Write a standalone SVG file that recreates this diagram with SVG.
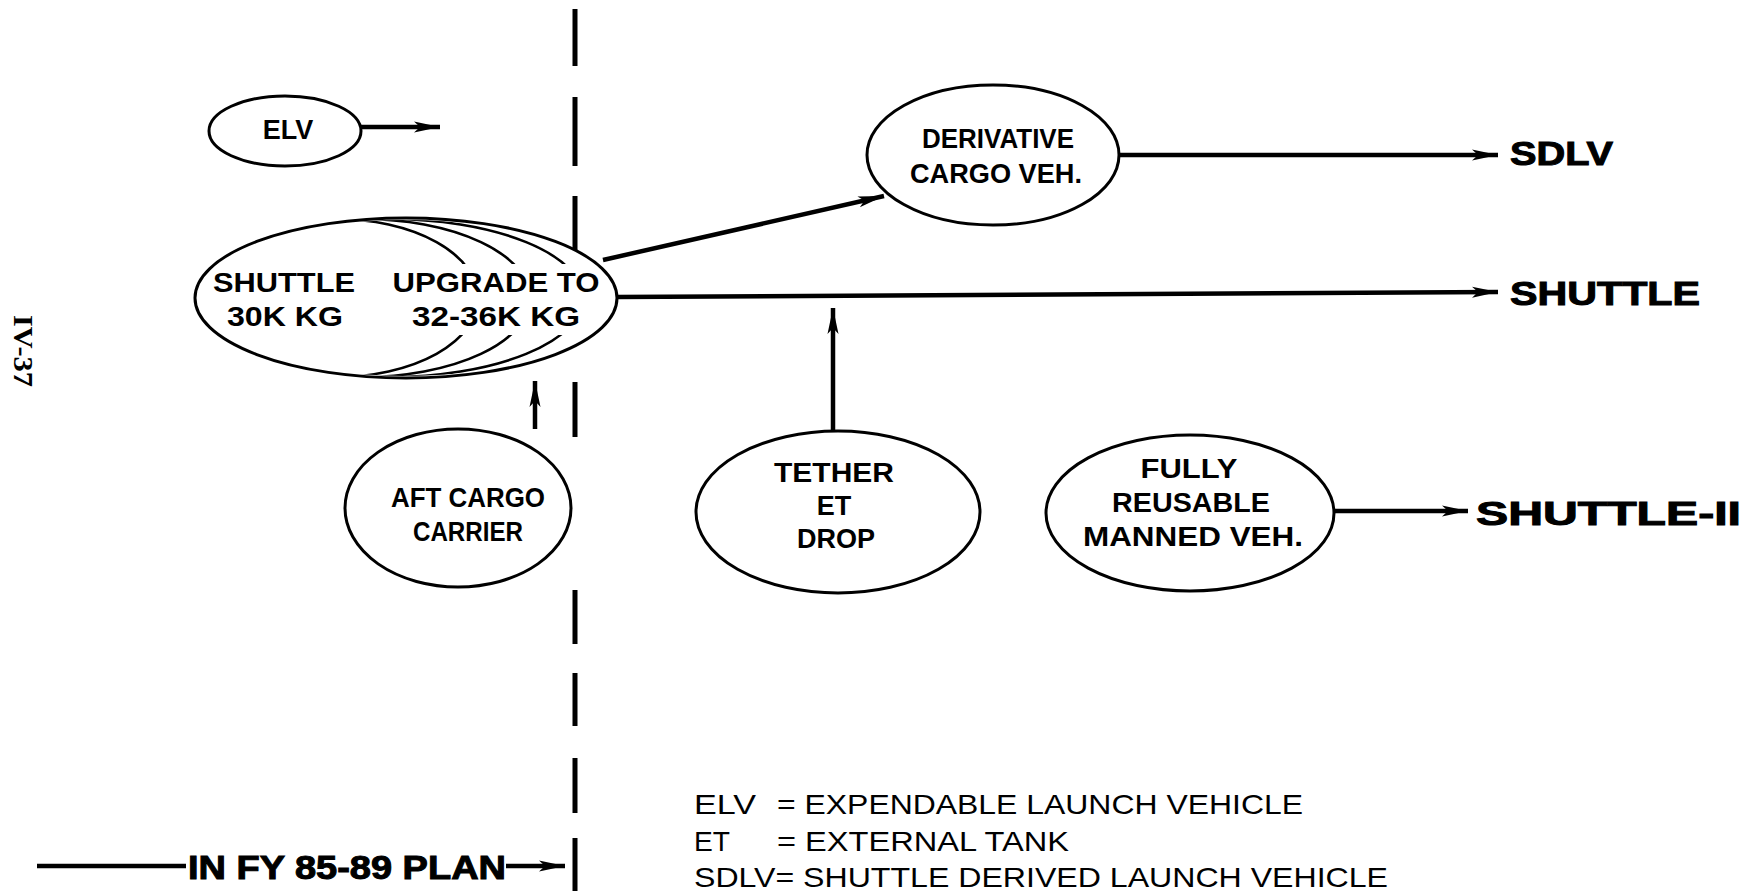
<svg xmlns="http://www.w3.org/2000/svg" width="1747" height="896" viewBox="0 0 1747 896">
<style>
.node{fill:#fff;stroke:#000;stroke-width:3}
.arc{fill:none;stroke:#000;stroke-width:2.6}
.t{font-family:"Liberation Sans",Arial,sans-serif;font-weight:bold;font-size:27px;fill:#000;text-anchor:middle}
.big{font-family:"Liberation Sans",Arial,sans-serif;font-weight:bold;font-size:33px;fill:#000;stroke:#000;stroke-width:1;text-anchor:start}
.leg{font-family:"Liberation Sans",Arial,sans-serif;font-size:28px;fill:#000}
.conn{fill:none;stroke:#000;stroke-width:4.5}
.dash{fill:none;stroke:#000;stroke-width:5}
</style>
<defs>
<marker id="ah" markerUnits="userSpaceOnUse" markerWidth="28" markerHeight="14" refX="26" refY="7" orient="auto">
<path d="M0,1.5 L26,7 L0,12.5 L6,7 Z" fill="#000"/>
</marker>
<clipPath id="clipOuter"><ellipse cx="406" cy="298" rx="209" ry="78"/></clipPath>
<clipPath id="clipBand"><rect x="150" y="180" width="500" height="84"/><rect x="150" y="335" width="500" height="60"/></clipPath>
</defs>
<rect width="1747" height="896" fill="#fff"/>

<g id="divider">
<path class="dash" d="M575,9 V66 M575,97 V166 M575,196 V256 M575,382 V437 M575,590 V644 M575,673 V726 M575,758 V813 M575,838 V891"/>
</g>

<g id="connectors">
<line class="conn" x1="361" y1="127" x2="440" y2="127" marker-end="url(#ah)"/>
<line class="conn" x1="603" y1="260" x2="884" y2="196" marker-end="url(#ah)"/>
<line class="conn" x1="616" y1="297" x2="1498" y2="292" marker-end="url(#ah)"/>
<line class="conn" x1="1119" y1="155" x2="1498" y2="155" marker-end="url(#ah)"/>
<line class="conn" x1="833" y1="431" x2="833" y2="308" marker-end="url(#ah)"/>
<line class="conn" x1="535" y1="429" x2="535" y2="381" marker-end="url(#ah)"/>
<line class="conn" x1="1334" y1="511" x2="1468" y2="511" marker-end="url(#ah)"/>
<line class="conn" x1="37" y1="866" x2="186" y2="866" stroke-width="3.5"/>
<line class="conn" x1="506" y1="866" x2="565" y2="866" marker-end="url(#ah)"/>
</g>

<g id="elv">
<ellipse class="node" cx="285" cy="131" rx="76" ry="35"/>
<text class="t" x="288" y="139" font-size="25">ELV</text>
</g>

<g id="shuttle-upgrade">
<ellipse class="node" cx="406" cy="298" rx="211" ry="80"/>
<g clip-path="url(#clipOuter)"><g clip-path="url(#clipBand)">
<ellipse class="arc" cx="336.5" cy="298" rx="141.5" ry="79"/>
<ellipse class="arc" cx="362.5" cy="298" rx="167.5" ry="79"/>
<ellipse class="arc" cx="389" cy="298" rx="194" ry="79"/>
</g></g>
<text class="t" x="284" y="292" font-size="30" textLength="142" lengthAdjust="spacingAndGlyphs">SHUTTLE</text>
<text class="t" x="285" y="326" font-size="30" textLength="116" lengthAdjust="spacingAndGlyphs">30K  KG</text>
<text class="t" x="496" y="292" font-size="30" textLength="207" lengthAdjust="spacingAndGlyphs">UPGRADE TO</text>
<text class="t" x="496" y="326" font-size="30" textLength="168" lengthAdjust="spacingAndGlyphs">32-36K  KG</text>
</g>

<g id="derivative">
<ellipse class="node" cx="993" cy="155" rx="126" ry="70" stroke-width="4"/>
<text class="t" x="998" y="148" textLength="152" lengthAdjust="spacingAndGlyphs">DERIVATIVE</text>
<text class="t" x="996" y="183" textLength="172" lengthAdjust="spacingAndGlyphs">CARGO VEH.</text>
</g>

<g id="aft-cargo">
<ellipse class="node" cx="458" cy="508" rx="113" ry="79"/>
<text class="t" x="468" y="507" textLength="154" lengthAdjust="spacingAndGlyphs">AFT CARGO</text>
<text class="t" x="468" y="541" textLength="110" lengthAdjust="spacingAndGlyphs">CARRIER</text>
</g>

<g id="tether">
<ellipse class="node" cx="838" cy="512" rx="142" ry="81"/>
<text class="t" x="834" y="482" textLength="120" lengthAdjust="spacingAndGlyphs">TETHER</text>
<text class="t" x="834" y="515" font-size="28">ET</text>
<text class="t" x="836" y="548" font-size="28">DROP</text>
</g>

<g id="fully-reusable">
<ellipse class="node" cx="1190" cy="513" rx="144" ry="78"/>
<text class="t" x="1189" y="478" textLength="97" lengthAdjust="spacingAndGlyphs">FULLY</text>
<text class="t" x="1191" y="512" textLength="158" lengthAdjust="spacingAndGlyphs">REUSABLE</text>
<text class="t" x="1193" y="546" textLength="220" lengthAdjust="spacingAndGlyphs">MANNED VEH.</text>
</g>

<g id="outcomes">
<text id="sdlv" class="big" x="1510" y="165" font-size="31" textLength="103" lengthAdjust="spacingAndGlyphs">SDLV</text>
<text id="shuttle" class="big" x="1510" y="305" textLength="190" lengthAdjust="spacingAndGlyphs">SHUTTLE</text>
<text id="shuttle-ii" class="big" x="1476" y="525" textLength="265" lengthAdjust="spacingAndGlyphs">SHUTTLE-II</text>
</g>

<g id="plan-label">
<text class="big" x="188" y="879" font-size="34" stroke-width="0.6" textLength="318" lengthAdjust="spacingAndGlyphs">IN FY 85-89 PLAN</text>
</g>

<g id="legend">
<text class="leg" x="694" y="814" textLength="62" lengthAdjust="spacingAndGlyphs">ELV</text>
<text class="leg" x="777" y="814" textLength="526" lengthAdjust="spacingAndGlyphs">= EXPENDABLE LAUNCH VEHICLE</text>
<text class="leg" x="694" y="851" textLength="36" lengthAdjust="spacingAndGlyphs">ET</text>
<text class="leg" x="777" y="851" textLength="292" lengthAdjust="spacingAndGlyphs">= EXTERNAL TANK</text>
<text class="leg" x="694" y="887" textLength="694" lengthAdjust="spacingAndGlyphs">SDLV= SHUTTLE DERIVED LAUNCH VEHICLE</text>
</g>

<text transform="translate(14,315) rotate(90)" font-family="Liberation Serif,serif" font-size="28" font-weight="bold" textLength="72" lengthAdjust="spacingAndGlyphs" fill="#000">IV-37</text>
</svg>
